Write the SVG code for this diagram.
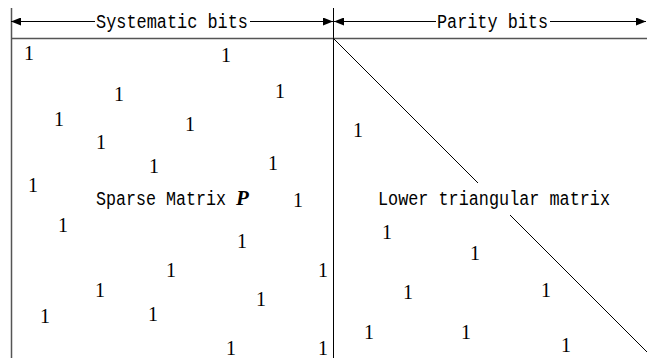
<svg xmlns="http://www.w3.org/2000/svg" width="647" height="358" viewBox="0 0 647 358">
<style>
.t{font-family:"Liberation Mono","DejaVu Sans Mono",monospace;font-size:20px;fill:#000}
.o{font-family:"Liberation Serif","Times New Roman",serif;font-size:20px;fill:#000;text-anchor:middle}
.p{font-family:"Liberation Serif","Times New Roman",serif;font-size:21px;font-style:italic;font-weight:bold;fill:#000}
.ln{stroke:#000;stroke-width:1;fill:none}
.g{stroke:#555;stroke-width:1.5;fill:none}
</style>
<defs>
<marker id="ah" viewBox="0 0 10 8" refX="10" refY="4" markerWidth="10" markerHeight="8" markerUnits="userSpaceOnUse" orient="auto-start-reverse">
<path d="M0,0 L10,4 L0,8 Z" fill="#000"/>
</marker>
</defs>
<g id="frame">
<line class="g" x1="11.5" y1="8" x2="11.5" y2="358"/>
<line class="ln" x1="333.5" y1="8" x2="333.5" y2="358"/>
<line class="g" x1="11" y1="38.5" x2="647" y2="38.5"/>
</g>
<g id="connectors">
<line class="ln" x1="11" y1="21.5" x2="95" y2="21.5" marker-start="url(#ah)"/>
<line class="ln" x1="250" y1="21.5" x2="333" y2="21.5" marker-end="url(#ah)"/>
<line class="ln" x1="334" y1="21.5" x2="436" y2="21.5" marker-start="url(#ah)"/>
<line class="ln" x1="550" y1="21.5" x2="646" y2="21.5" marker-end="url(#ah)"/>
<line class="ln" x1="333" y1="38" x2="478" y2="183"/>
<line class="ln" x1="510" y1="215" x2="647" y2="352"/>
</g>
<g id="header">
<text class="t" x="96" y="28" textLength="152" lengthAdjust="spacingAndGlyphs">Systematic bits</text>
<text class="t" x="437" y="28" textLength="111" lengthAdjust="spacingAndGlyphs">Parity bits</text>
</g>
<g id="sparse">
<text class="t" x="96" y="205" textLength="130" lengthAdjust="spacingAndGlyphs">Sparse Matrix</text>
<text class="p" x="236" y="205">P</text>
<text class="o" x="29" y="60">1</text>
<text class="o" x="226" y="62">1</text>
<text class="o" x="119" y="101">1</text>
<text class="o" x="280" y="98">1</text>
<text class="o" x="59" y="126">1</text>
<text class="o" x="190" y="131">1</text>
<text class="o" x="101" y="149">1</text>
<text class="o" x="154" y="173">1</text>
<text class="o" x="273" y="170">1</text>
<text class="o" x="33" y="192">1</text>
<text class="o" x="298" y="207">1</text>
<text class="o" x="63" y="232">1</text>
<text class="o" x="242" y="248">1</text>
<text class="o" x="171" y="277">1</text>
<text class="o" x="323" y="277">1</text>
<text class="o" x="100" y="297">1</text>
<text class="o" x="261" y="306">1</text>
<text class="o" x="45" y="323">1</text>
<text class="o" x="153" y="321">1</text>
<text class="o" x="231" y="355">1</text>
<text class="o" x="323" y="355">1</text>
</g>
<g id="lower">
<text class="t" x="378" y="205" textLength="232" lengthAdjust="spacingAndGlyphs">Lower triangular matrix</text>
<text class="o" x="358" y="137">1</text>
<text class="o" x="387" y="239">1</text>
<text class="o" x="475" y="260">1</text>
<text class="o" x="408" y="299">1</text>
<text class="o" x="546" y="297">1</text>
<text class="o" x="369" y="339">1</text>
<text class="o" x="466" y="339">1</text>
<text class="o" x="566" y="352">1</text>
</g>
</svg>
